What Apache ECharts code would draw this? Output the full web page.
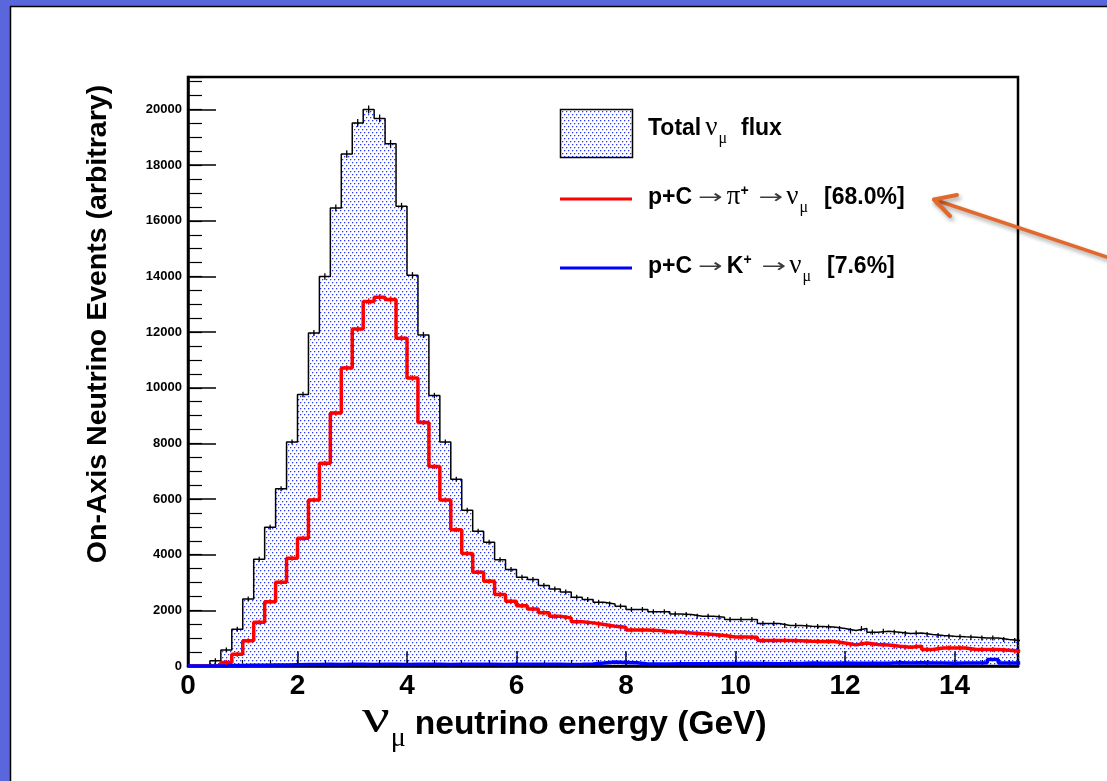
<!DOCTYPE html>
<html>
<head>
<meta charset="utf-8">
<script src="https://cdn.jsdelivr.net/npm/echarts@6/dist/echarts.min.js"></script>
<style>
  html, body { margin: 0; padding: 0; background: #ffffff; }
  #chart { width: 1107px; height: 781px; }
</style>
</head>
<body>
<div id="chart"></div>
<script>
// Lower edge of each 0.2 GeV energy bin
const binLow = [
  0.0, 0.2, 0.4, 0.6, 0.8, 1.0, 1.2, 1.4, 1.6, 1.8,
  2.0, 2.2, 2.4, 2.6, 2.8, 3.0, 3.2, 3.4, 3.6, 3.8,
  4.0, 4.2, 4.4, 4.6, 4.8, 5.0, 5.2, 5.4, 5.6, 5.8,
  6.0, 6.2, 6.4, 6.6, 6.8, 7.0, 7.2, 7.4, 7.6, 7.8,
  8.0, 8.2, 8.4, 8.6, 8.8, 9.0, 9.2, 9.4, 9.6, 9.8,
  10.0, 10.2, 10.4, 10.6, 10.8, 11.0, 11.2, 11.4, 11.6, 11.8,
  12.0, 12.2, 12.4, 12.6, 12.8, 13.0, 13.2, 13.4, 13.6, 13.8,
  14.0, 14.2, 14.4, 14.6, 14.8, 15.0
];
const binWidth = 0.2;

// Total muon-neutrino flux per bin
const totalFlux = [
  0, 0, 190, 575, 1320, 2410, 3840, 4990, 6370, 8050,
  9760, 11970, 14000, 16460, 18400, 19520, 20000, 19680, 18770, 16520,
  14040, 11900, 9720, 8050, 6710, 5600, 4840, 4450, 3820, 3465,
  3190, 3110, 2890, 2770, 2660, 2470, 2390, 2290, 2230, 2150,
  2030, 2030, 1950, 1950, 1870, 1850, 1790, 1790, 1750, 1670,
  1670, 1670, 1525, 1525, 1455, 1455, 1430, 1420, 1400, 1345,
  1275, 1345, 1215, 1250, 1215, 1165, 1190, 1130, 1095, 1070,
  1050, 1035, 1010, 1010, 950, 915
];

// Contribution from p+C -> pi+ -> nu_mu
const pionFlux = [
  0, 0, 0, 130, 420, 910, 1570, 2310, 3010, 3870,
  4590, 5970, 7290, 9090, 10710, 12110, 13100, 13250, 13170, 11780,
  10350, 8750, 7170, 5970, 4900, 4040, 3370, 3050, 2570, 2330,
  2170, 2050, 1910, 1790, 1730, 1590, 1550, 1490, 1430, 1390,
  1290, 1290, 1280, 1230, 1220, 1190, 1160, 1130, 1100, 1040,
  1040, 1035, 915, 915, 915, 910, 890, 885, 880, 830,
  760, 830, 775, 755, 710, 675, 710, 590, 650, 650,
  650, 590, 590, 590, 570, 530
];

// Contribution from p+C -> K+ -> nu_mu
const kaonFlux = [
  0, 0, 0, 15, 20, 30, 30, 40, 35, 45,
  50, 55, 60, 50, 60, 65, 55, 60, 60, 55,
  60, 65, 60, 55, 60, 60, 65, 60, 55, 60,
  60, 65, 60, 60, 55, 60, 70, 110, 140, 130,
  120, 70, 70, 75, 80, 80, 85, 80, 90, 90,
  95, 90, 90, 85, 90, 90, 110, 100, 100, 105,
  100, 95, 100, 100, 120, 110, 115, 110, 105, 100,
  110, 110, 115, 230, 110, 110
];

const xTickLabels = ['0', '2', '4', '6', '8', '10', '12', '14'];
const yTitle = 'On-Axis Neutrino Events (arbitrary)';

const SANS = "'Liberation Sans', Arial, Helvetica, sans-serif";
const SERIF = "'Liberation Serif', 'DejaVu Serif', serif";
const ARROWF = "'DejaVu Sans', sans-serif";
const BORDER_BLUE = '#5a66dc';

// step outline: one point per lower edge, closed at the upper edge of the last bin
function stepData(values) {
  const pts = binLow.map((e, i) => [e, values[i]]);
  pts.push([binLow[binLow.length - 1] + binWidth, values[values.length - 1]]);
  return pts;
}

// dotted fill used for the total flux: staggered rows of soft blue dots
function dotTile() {
  const c = document.createElement('canvas');
  c.width = 4; c.height = 6;
  const g = c.getContext('2d');
  const dot = (x, y) => {
    g.fillStyle = 'rgba(40,55,255,1)';
    g.fillRect(x, y, 1, 1);
    g.fillStyle = 'rgba(40,55,255,0.3)';
    g.fillRect(x + 1, y, 1, 1);
    g.fillRect(x, y + 1, 1, 1);
  };
  dot(0, 0);
  dot(2, 3);
  return c;
}
const dotPattern = { image: dotTile(), repeat: 'repeat' };

// lays out a row of text fragments (mixed fonts, sub/superscripts) on one baseline
const measureCtx = document.createElement('canvas').getContext('2d');
function textRun(parts, x0, baseline) {
  let x = x0;
  const els = [];
  parts.forEach(p => {
    x += p.gap || 0;
    const font = (p.bold ? 'bold ' : '') + p.size + 'px ' + p.family;
    measureCtx.font = font;
    const sx = p.scaleX || 1;
    const w = measureCtx.measureText(p.text).width * sx;
    els.push({
      type: 'text', x: x, y: baseline + (p.dy || 0) - 0.35 * p.size, scaleX: sx,
      style: {
        text: p.text, font: font, fill: p.color || '#000',
        align: 'left', textAlign: 'left', verticalAlign: 'middle', textVerticalAlign: 'middle'
      }
    });
    x += w;
  });
  return els;
}

const LS = 23;   // legend font size
const arrow = (gap) => ({ text: '→', size: 19, family: ARROWF, gap: gap, color: '#3a3a3a', scaleX: 1.55, dy: -1 });
const nu = (gap) => ({ text: 'ν', size: 27, family: SERIF, gap: gap });
const mu = { text: 'μ', size: 16, family: SERIF, dy: 7, gap: 1 };
const legendRows = [
  textRun([
    { text: 'Total', bold: true, size: LS, family: SANS },
    nu(4), mu,
    { text: 'flux', bold: true, size: LS, family: SANS, gap: 14 }
  ], 648, 137),
  textRun([
    { text: 'p+C', bold: true, size: LS, family: SANS },
    arrow(6),
    { text: 'π', size: 27, family: SERIF, gap: 4 },
    { text: '+', bold: true, size: 14, family: SANS, dy: -10 },
    arrow(10),
    nu(3), mu,
    { text: '[68.0%]', bold: true, size: LS, family: SANS, gap: 16 }
  ], 648, 206),
  textRun([
    { text: 'p+C', bold: true, size: LS, family: SANS },
    arrow(6),
    { text: 'K', bold: true, size: LS, family: SANS, gap: 4 },
    { text: '+', bold: true, size: 14, family: SANS, dy: -10 },
    arrow(10),
    nu(3), mu,
    { text: '[7.6%]', bold: true, size: LS, family: SANS, gap: 16 }
  ], 648, 275)
].flat();

const xTitle = textRun([
  { text: 'ν', size: 48, family: SERIF, scaleX: 1.28 },
  { text: 'μ', size: 28, family: SERIF, dy: 12, gap: 1 },
  { text: 'neutrino energy (GeV)', bold: true, size: 33.5, family: SANS, gap: 9 }
], 362, 736);

// short vertical bar at every bin centre (statistical error)
function errorTicks(values, color, width) {
  return {
    type: 'custom', xAxisIndex: 0, yAxisIndex: 0, silent: true, z: 5,
    data: binLow.map((e, i) => [e + binWidth / 2, values[i]]),
    renderItem: function (params, api) {
      const v = api.value(1);
      if (!(v > 0)) return null;
      const p = api.coord([api.value(0), v]);
      const h = Math.max(2.5, api.size([0, Math.sqrt(v)])[1]);
      return {
        type: 'line',
        shape: { x1: p[0], y1: p[1] - h, x2: p[0], y2: p[1] + h },
        style: { stroke: color, lineWidth: width }
      };
    }
  };
}

const chart = echarts.init(document.getElementById('chart'), null, { renderer: 'canvas' });

const axisFont = { color: '#000', fontFamily: SANS, fontWeight: 'bold' };

chart.setOption({
  animation: false,
  backgroundColor: '#ffffff',
  grid: {
    left: 188, top: 77, right: 89, bottom: 115,
    show: true, borderColor: '#000', borderWidth: 2.5, backgroundColor: 'transparent'
  },
  xAxis: [
    {
      type: 'value', min: 0, max: 15.16, interval: 2,
      axisLine: { show: true, onZero: false, lineStyle: { color: '#000', width: 2.5 } },
      axisTick: { inside: true, length: 15, lineStyle: { color: '#000', width: 1.5 } },
      axisLabel: Object.assign({
        fontSize: 28, margin: 6, showMaxLabel: false,
        formatter: v => xTickLabels.indexOf(String(v)) >= 0 ? String(v) : ''
      }, axisFont),
      splitLine: { show: false }
    },
    {
      type: 'value', min: 0, max: 15.16, interval: 0.5, position: 'bottom',
      axisLine: { show: false },
      axisTick: { inside: true, length: 6, lineStyle: { color: '#000', width: 1.2 } },
      axisLabel: { show: false }, splitLine: { show: false }
    }
  ],
  yAxis: [
    {
      type: 'value', min: 0, max: 21170, interval: 2000,
      axisLine: { show: true, onZero: false, lineStyle: { color: '#000', width: 2.5 } },
      axisTick: { inside: true, length: 28, lineStyle: { color: '#000', width: 1.5 } },
      axisLabel: Object.assign({
        fontSize: 13, margin: 6, showMaxLabel: false,
        formatter: v => String(v)
      }, axisFont),
      splitLine: { show: false }
    },
    {
      type: 'value', min: 0, max: 21170, interval: 500, position: 'left',
      axisLine: { show: false },
      axisTick: { inside: true, length: 14, lineStyle: { color: '#000', width: 1.2 } },
      axisLabel: { show: false }, splitLine: { show: false }
    }
  ],
  series: [
    {
      name: 'Total', type: 'line', step: 'end', xAxisIndex: 0, yAxisIndex: 0,
      data: stepData(totalFlux), showSymbol: false, symbol: 'none', z: 2,
      lineStyle: { color: '#000', width: 1.5 },
      areaStyle: { color: dotPattern, opacity: 1 }
    },
    {
      name: 'pi', type: 'line', step: 'end', xAxisIndex: 0, yAxisIndex: 0,
      data: stepData(pionFlux), showSymbol: false, symbol: 'none', z: 3,
      lineStyle: { color: '#ff0000', width: 3.5 }
    },
    {
      name: 'K', type: 'line', step: 'end', xAxisIndex: 0, yAxisIndex: 0,
      data: stepData(kaonFlux), showSymbol: false, symbol: 'none', z: 4,
      lineStyle: { color: '#0000ff', width: 3.5 }
    },
    errorTicks(totalFlux, '#000', 1.3),
    errorTicks(pionFlux, '#ff0000', 1.5)
  ],
  graphic: [
    // slide frame: blue strip with a dark edge along the top and the left
    { type: 'rect', shape: { x: 0, y: 0, width: 1107, height: 6 }, style: { fill: BORDER_BLUE }, z: 10 },
    { type: 'rect', shape: { x: 0, y: 0, width: 10, height: 781 }, style: { fill: BORDER_BLUE }, z: 10 },
    { type: 'line', shape: { x1: 10.5, y1: 6, x2: 10.5, y2: 781 }, style: { stroke: '#000', lineWidth: 1.5 }, z: 10 },
    { type: 'line', shape: { x1: 10, y1: 6.5, x2: 1107, y2: 6.5 }, style: { stroke: '#000', lineWidth: 1.5 }, z: 10 },

    // legend keys
    { type: 'rect', shape: { x: 560.5, y: 109.5, width: 72, height: 48 },
      style: { fill: dotPattern, stroke: '#000', lineWidth: 1.5 }, z: 10 },
    { type: 'line', shape: { x1: 560, y1: 199, x2: 632, y2: 199 }, style: { stroke: '#ff0000', lineWidth: 3 }, z: 10 },
    { type: 'line', shape: { x1: 560, y1: 268, x2: 632, y2: 268 }, style: { stroke: '#0000ff', lineWidth: 3 }, z: 10 },
    ...legendRows.map(e => Object.assign(e, { z: 10 })),

    // axis titles
    { type: 'text', x: 98, y: 324, rotation: Math.PI / 2, z: 10,
      style: { text: yTitle, font: 'bold 28.5px ' + SANS, fill: '#000',
               align: 'center', textAlign: 'center', verticalAlign: 'middle', textVerticalAlign: 'middle' } },
    ...xTitle.map(e => Object.assign(e, { z: 10 })),

    // annotation arrow pointing at the pion entry
    { type: 'polyline', z: 11,
      shape: { points: [[1107, 257], [934, 199.5]] },
      style: { stroke: '#e2692b', lineWidth: 3.5, lineCap: 'round',
               shadowColor: 'rgba(0,0,0,0.35)', shadowBlur: 4, shadowOffsetX: 2, shadowOffsetY: 3 } },
    { type: 'polyline', z: 11,
      shape: { points: [[957, 195], [934, 199.5], [950, 216]] },
      style: { stroke: '#e2692b', lineWidth: 4, lineCap: 'round', lineJoin: 'round', fill: null,
               shadowColor: 'rgba(0,0,0,0.35)', shadowBlur: 4, shadowOffsetX: 2, shadowOffsetY: 3 } }
  ]
});
</script>
</body>
</html>
